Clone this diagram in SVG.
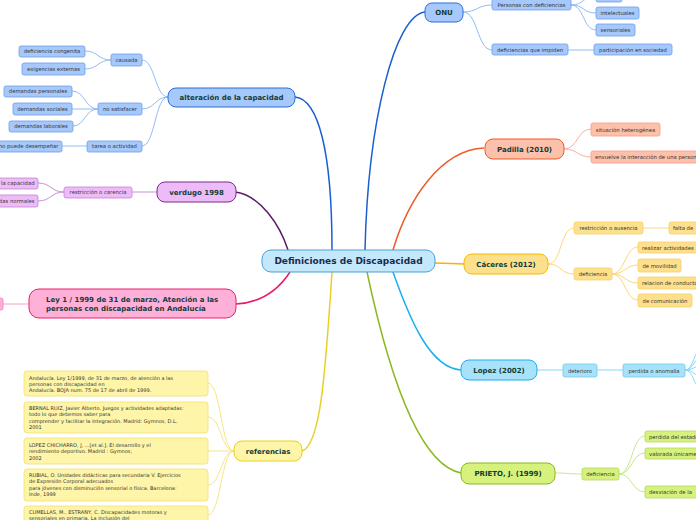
<svg xmlns="http://www.w3.org/2000/svg" width="696" height="520" viewBox="0 0 696 520">
<style>
.main{font-family:"DejaVu Sans",Verdana,sans-serif;font-weight:bold;font-size:7px;fill:#123c38;text-anchor:middle}
.ctr{font-family:"DejaVu Sans",Verdana,sans-serif;font-weight:bold;font-size:9px;fill:#1a2b4c;text-anchor:middle}
.sub{font-family:"DejaVu Sans",Verdana,sans-serif;font-size:5.3px;fill:#333;text-anchor:middle}
.st{text-anchor:start}
.en{text-anchor:end}
.ref{font-family:"DejaVu Sans",Verdana,sans-serif;font-size:5px;fill:#333}
.bl rect{fill:#a6c8fa;stroke:#6d9fe8;stroke-width:0.8}
.pu rect{fill:#edbcf8;stroke:#c384d4;stroke-width:0.8}
.pk rect{fill:#ffb0d8;stroke:#f080b0;stroke-width:0.8}
.or rect{fill:#fcc0ab;stroke:#f8a080;stroke-width:0.8}
.ye rect{fill:#fde08c;stroke:#f8cf6a;stroke-width:0.8}
.cy rect{fill:#a8e2fa;stroke:#70c8f0;stroke-width:0.8}
.gr rect{fill:#d6f27c;stroke:#b0d860;stroke-width:0.8}
.rf rect{fill:#fff5a8;stroke:#f0e070;stroke-width:0.8}
#connectors path{fill:none}
.m{stroke-width:1.5}
.s{stroke-width:1}
</style>
<g id="connectors">
<path class="m" stroke="#1a5fd0" d="M295,97 C318,99 332,150 332,250"/>
<path class="m" stroke="#1a5fd0" d="M425,12 C395,15 368,120 365,250"/>
<path class="m" stroke="#5a1a6a" d="M235,192 C260,195 280,225 288,250"/>
<path class="m" stroke="#e81a6a" d="M290,272 C275,295 255,303 236,304"/>
<path class="m" stroke="#f05a28" d="M484,148 C440,150 408,200 393,250"/>
<path class="m" stroke="#f5b400" d="M435,263 C450,263 452,264 464,264"/>
<path class="m" stroke="#1ab0f0" d="M393,272 C410,320 430,368 461,370"/>
<path class="m" stroke="#8ab820" d="M367,272 C390,380 420,465 461,473"/>
<path class="m" stroke="#e8d020" d="M332,272 C325,380 320,445 302,451"/>
<g stroke="#90bcf5" class="s">
<path d="M168,97 C155,97 155,60 142,60"/>
<path d="M168,97 C155,97 155,109 142,109"/>
<path d="M168,97 C155,97 155,146 142,146"/>
<path d="M111,60 C98,60 98,51 85,51"/>
<path d="M111,60 C98,60 98,69 85,69"/>
<path d="M98,109 C85,109 85,91 72,91"/>
<path d="M98,109 L72,109"/>
<path d="M98,109 C85,109 85,126 73,126"/>
<path d="M87,146 L62,146"/>
<path d="M463,12 C478,12 477,5 492,5"/>
<path d="M463,12 C478,12 477,50 492,50"/>
<path d="M571,5 C584,5 583,-4 596,-4"/>
<path d="M571,5 C584,5 583,13 596,13"/>
<path d="M571,5 C584,5 583,30 596,30"/>
<path d="M568,50 L594,50"/>
</g>
<g stroke="#c890d8" class="s">
<path d="M157,192 L132,192"/>
<path d="M64,192 C51,192 51,183 38,183"/>
<path d="M64,192 C51,192 51,201 38,201"/>
</g>
<path class="s" stroke="#f8a0c8" d="M29,304 L3,304"/>
<g stroke="#fbb0a0" class="s">
<path d="M564,149 C578,149 577,129 591,129"/>
<path d="M564,149 C578,149 577,157 591,157"/>
</g>
<g stroke="#fcd77a" class="s">
<path d="M548,264 C562,264 560,228 574,228"/>
<path d="M548,264 C562,264 560,274 574,274"/>
<path d="M643,228 L669,228"/>
<path d="M612,274 C625,274 625,247 638,247"/>
<path d="M612,274 C625,274 625,265 638,265"/>
<path d="M612,274 C625,274 625,283 638,283"/>
<path d="M612,274 C625,274 625,300 638,300"/>
</g>
<g stroke="#8ad8f8" class="s">
<path d="M537,370 L563,370"/>
<path d="M597,370 L623,370"/>
<path d="M685,370 C694,370 693,350 702,350"/>
<path d="M685,370 C694,370 693,358 702,358"/>
<path d="M685,370 C694,370 693,366 702,366"/>
<path d="M685,370 C694,370 693,376 702,376"/>
<path d="M685,370 C694,370 693,388 702,388"/>
</g>
<g stroke="#c8e890" class="s">
<path d="M555,473 C568,473 569,474 582,474"/>
<path d="M619,474 C632,474 632,436 645,436"/>
<path d="M619,474 C632,474 632,453 645,453"/>
<path d="M619,474 C632,474 632,492 645,492"/>
</g>
<g stroke="#f5e68a" class="s">
<path d="M234,451 C221,451 221,383 208,383"/>
<path d="M234,451 C221,451 221,417 208,417"/>
<path d="M234,451 L208,451"/>
<path d="M234,451 C221,451 221,485 208,485"/>
<path d="M234,451 C221,451 221,515 208,515"/>
</g>
</g>
<g id="center"><rect x="262" y="250" width="173" height="22" rx="9" fill="#c4e8fb" stroke="#4a9fd6" stroke-width="1"/><text class="ctr" x="348.5" y="264.2">Definiciones de Discapacidad</text></g>
<g id="onu"><rect x="425" y="3" width="38" height="19" rx="7" fill="#a6c8fa" stroke="#2a6fd6" stroke-width="1"/><text class="main" x="444" y="15">ONU</text></g>
<g id="alteracion"><rect x="168" y="88" width="127" height="19" rx="8" fill="#a6c8fa" stroke="#2a6fd6" stroke-width="1"/><text class="main" x="231.5" y="100">alteración de la capacidad</text></g>
<g id="verdugo"><rect x="157" y="182" width="79" height="20" rx="8" fill="#edbcf8" stroke="#7a2a8a" stroke-width="1"/><text class="main" x="196.5" y="194.5">verdugo 1998</text></g>
<g id="ley"><rect x="29" y="289" width="207" height="29" rx="10" fill="#ffb0d8" stroke="#e8206a" stroke-width="1"/><text class="main st" x="46" y="301.8">Ley 1 / 1999 de 31 de marzo, Atención a las</text><text class="main st" x="46" y="311.2">personas con discapacidad en Andalucía</text></g>
<g id="padilla"><rect x="485" y="139" width="79" height="20" rx="8" fill="#fcc0ab" stroke="#f05a28" stroke-width="1"/><text class="main" x="524.5" y="151.5">Padilla (2010)</text></g>
<g id="caceres"><rect x="464" y="254" width="84" height="20" rx="8" fill="#fde08c" stroke="#f5b800" stroke-width="1"/><text class="main" x="506" y="266.5">Cáceres (2012)</text></g>
<g id="lopez"><rect x="461" y="360" width="76" height="20" rx="8" fill="#a8e2fa" stroke="#1ab0f0" stroke-width="1"/><text class="main" x="499" y="372.5">Lopez (2002)</text></g>
<g id="prieto"><rect x="461" y="463" width="94" height="21" rx="8" fill="#d6f27c" stroke="#8ab820" stroke-width="1"/><text class="main" x="508" y="476">PRIETO, J. (1999)</text></g>
<g id="referencias"><rect x="234" y="441" width="68" height="20" rx="8" fill="#fff5a8" stroke="#e8d020" stroke-width="1"/><text class="main" x="268" y="453.5">referencias</text></g>

<g id="personas" class="bl"><rect x="492" y="-1" width="79" height="11" rx="2"/><text class="sub" x="531.5" y="6.5">Personas con deficiencias</text></g>
<g id="onu-top" class="bl"><rect x="596" y="-10" width="26" height="12" rx="2"/></g>
<g id="intelectuales" class="bl"><rect x="596" y="7" width="43" height="12" rx="2"/><text class="sub" x="617.5" y="14.8">intelectuales</text></g>
<g id="sensoriales" class="bl"><rect x="596" y="24" width="39" height="12" rx="2"/><text class="sub" x="615.5" y="31.8">sensoriales</text></g>
<g id="impiden" class="bl"><rect x="492" y="44" width="76" height="11" rx="2"/><text class="sub" x="530" y="51.5">deficiencias que impiden</text></g>
<g id="participacion" class="bl"><rect x="594" y="44" width="78" height="11" rx="2"/><text class="sub" x="633" y="51.5">participación en sociedad</text></g>
<g id="causada" class="bl"><rect x="111" y="54" width="31" height="12" rx="2"/><text class="sub" x="126.5" y="61.8">causada</text></g>
<g id="congenita" class="bl"><rect x="19" y="46" width="66" height="11" rx="2"/><text class="sub" x="52" y="53.3">deficiencia congenita</text></g>
<g id="externas" class="bl"><rect x="22" y="63" width="63" height="12" rx="2"/><text class="sub" x="53.5" y="70.8">exigencias externas</text></g>
<g id="nosatisfacer" class="bl"><rect x="98" y="103" width="44" height="12" rx="2"/><text class="sub" x="120" y="110.8">no satisfacer</text></g>
<g id="personales" class="bl"><rect x="4" y="86" width="68" height="11" rx="2"/><text class="sub" x="38" y="93.3">demandas personales</text></g>
<g id="sociales" class="bl"><rect x="13" y="103" width="59" height="12" rx="2"/><text class="sub" x="42.5" y="110.8">demandas sociales</text></g>
<g id="laborales" class="bl"><rect x="9" y="121" width="64" height="11" rx="2"/><text class="sub" x="41" y="128.3">demandas laborales</text></g>
<g id="tarea" class="bl"><rect x="87" y="141" width="55" height="11" rx="2"/><text class="sub" x="114.5" y="148.3">tarea o actividad</text></g>
<g id="nopuede" class="bl"><rect x="-24" y="141" width="86" height="11" rx="2"/><text class="sub en" x="58.5" y="148.3">no puede desempeñar</text></g>
<g id="restriccion-carencia" class="pu"><rect x="64" y="187" width="68" height="11" rx="2"/><text class="sub" x="98" y="194.3">restricción o carencia</text></g>
<g id="capacidad" class="pu"><rect x="-30" y="178" width="68" height="11" rx="2"/><text class="sub en" x="34.5" y="185.3">la capacidad</text></g>
<g id="normales" class="pu"><rect x="-30" y="195" width="68" height="12" rx="2"/><text class="sub en" x="34.5" y="202.8">das normales</text></g>
<g id="ley-child" class="pk"><rect x="-20" y="298" width="23" height="12" rx="2"/></g>
<g id="heterogenea" class="or"><rect x="591" y="123" width="69" height="13" rx="2"/><text class="sub" x="625.5" y="131.5">situación heterogénea</text></g>
<g id="envuelve" class="or"><rect x="591" y="151" width="140" height="12" rx="2"/><text class="sub st" x="595" y="159">envuelve la interacción de una persona</text></g>
<g id="ausencia" class="ye"><rect x="574" y="222" width="69" height="12" rx="2"/><text class="sub" x="608.5" y="230">restricción o ausencia</text></g>
<g id="falta" class="ye"><rect x="669" y="222" width="60" height="12" rx="2"/><text class="sub st" x="673" y="230">falta de</text></g>
<g id="deficiencia-c" class="ye"><rect x="574" y="268" width="38" height="12" rx="2"/><text class="sub" x="593" y="276">deficiencia</text></g>
<g id="actividades" class="ye"><rect x="638" y="242" width="80" height="11" rx="2"/><text class="sub st" x="642" y="249.5">realizar actividades</text></g>
<g id="movilidad" class="ye"><rect x="638" y="259" width="43" height="13" rx="2"/><text class="sub" x="659.5" y="267.5">de movilidad</text></g>
<g id="conducta" class="ye"><rect x="638" y="277" width="80" height="12" rx="2"/><text class="sub st" x="642" y="285">relacion de conducta</text></g>
<g id="comunicacion" class="ye"><rect x="638" y="294" width="54" height="13" rx="2"/><text class="sub" x="665" y="302.5">de comunicación</text></g>
<g id="deterioro" class="cy"><rect x="563" y="364" width="34" height="13" rx="2"/><text class="sub" x="580" y="372.5">deterioro</text></g>
<g id="anomalia" class="cy"><rect x="623" y="364" width="62" height="13" rx="2"/><text class="sub" x="654" y="372.5">perdida o anomalía</text></g>
<g id="deficiencia-p" class="gr"><rect x="582" y="468" width="37" height="12" rx="2"/><text class="sub" x="600.5" y="476">deficiencia</text></g>
<g id="estado" class="gr"><rect x="645" y="431" width="80" height="11" rx="2"/><text class="sub st" x="649" y="438.5">perdida del estado</text></g>
<g id="valorada" class="gr"><rect x="645" y="448" width="80" height="11" rx="2"/><text class="sub st" x="649" y="455.5">valorada únicamente</text></g>
<g id="desviacion" class="gr"><rect x="645" y="486" width="80" height="12" rx="2"/><text class="sub st" x="649" y="494">desviación de la</text></g>

<g id="ref1" class="rf"><rect x="24" y="371" width="184" height="25" rx="3"/><text class="ref" x="29" y="379.6">Andalucía. Ley 1/1999, de 31 de marzo, de atención a las</text><text class="ref" x="29" y="385.8">personas con discapacidad en</text><text class="ref" x="29" y="392">Andalucía. BOJA num. 75 de 17 de abril de 1999.</text></g>
<g id="ref2" class="rf"><rect x="24" y="402" width="184" height="31" rx="3"/><text class="ref" x="29" y="409.8">BERNAL RUIZ, Javier Alberto. Juegos y actividades adaptadas:</text><text class="ref" x="29" y="416">todo lo que debemos saber para</text><text class="ref" x="29" y="422.6">comprender y facilitar la integración. Madrid: Gymnos, D.L.</text><text class="ref" x="29" y="428.8">2001</text></g>
<g id="ref3" class="rf"><rect x="24" y="438" width="184" height="26" rx="3"/><text class="ref" x="29" y="446.8">LOPEZ CHICHARRO, J, ...[et al.]. El desarrollo y el</text><text class="ref" x="29" y="453.2">rendimiento deportivo. Madrid : Gymnos,</text><text class="ref" x="29" y="459.8">2002</text></g>
<g id="ref4" class="rf"><rect x="24" y="469" width="184" height="32" rx="3"/><text class="ref" x="29" y="476.8">RUBIAL, O. Unidades didácticas para secundaria V. Ejercicios</text><text class="ref" x="29" y="483.3">de Expresión Corporal adecuados</text><text class="ref" x="29" y="489.8">para jóvenes con disminución sensorial o física. Barcelona:</text><text class="ref" x="29" y="496.3">Inde, 1999</text></g>
<g id="ref5" class="rf"><rect x="24" y="506" width="184" height="30" rx="3"/><text class="ref" x="29" y="513.8">CUMELLAS, M., ESTRANY, C. Discapacidades motoras y</text><text class="ref" x="29" y="520.2">sensoriales en primaria. La inclusión del</text></g>
</svg>
